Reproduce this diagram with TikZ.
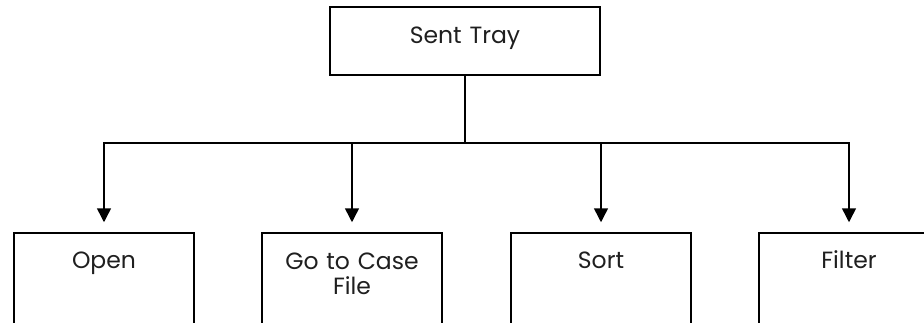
\documentclass[tikz,border=0pt]{standalone}
\usepackage{fontspec}
\setmainfont{Poppins}
\usetikzlibrary{arrows.meta}

\tikzset{
  treebox/.style={draw=black, line width=1.5pt, rectangle, inner sep=0pt},
  boxlabel/.style={anchor=base, font=\fontsize{23.5}{25}\selectfont, text=black!88,
                   text width=175pt, align=center, inner sep=0pt},
  wire/.style={line width=1.5pt, draw=black},
  arrowwire/.style={wire, -{Triangle[width=14pt,length=14pt]}, shorten >=10pt},
}

\begin{document}
\begin{tikzpicture}[x=1pt,y=1pt]
  \useasboundingbox (0,0) rectangle (924,322);
  \clip (0,0) rectangle (924,322);

  % root box
  \node[treebox, minimum width=270pt, minimum height=68pt] (sent) at (465,281) {};
  \node[boxlabel] (sentlbl) at (465,278) {Sent Tray};

  % child boxes (their lower parts run off the page)
  \node[treebox, minimum width=180pt, minimum height=140pt] (open)   at (104,19) {};
  \node[treebox, minimum width=180pt, minimum height=140pt] (gofile) at (352,19) {};
  \node[treebox, minimum width=180pt, minimum height=140pt] (sort)   at (601,19) {};
  \node[treebox, minimum width=180pt, minimum height=140pt] (filter) at (849,19) {};

  \node[boxlabel] (openlbl)   at (104,54) {Open};
  \node[boxlabel] (gofilelbl) at (352,53) {Go to Case\\File};
  \node[boxlabel] (sortlbl)   at (601,54) {Sort};
  \node[boxlabel] (filterlbl) at (849,54) {Filter};

  % distribution bus
  \coordinate (bus) at (465,179);
  \draw[wire] (sent.south) -- (bus);
  \draw[wire, line cap=rect] (open.north |- bus) -- (filter.north |- bus);

  % arrows down to each child
  \foreach \c in {open,gofile,sort,filter}
    \draw[arrowwire] (\c.north |- bus) -- (\c.north);
\end{tikzpicture}
\end{document}
